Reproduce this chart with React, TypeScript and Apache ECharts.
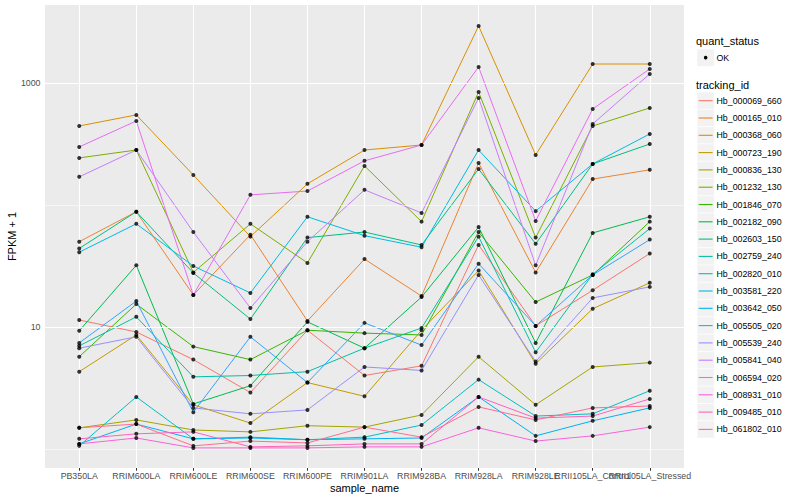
import React, { useEffect, useRef } from "react";
import * as echarts from "echarts";

const categories = [
  "PB350LA", "RRIM600LA", "RRIM600LE", "RRIM600SE", "RRIM600PE", "RRIM901LA",
  "RRIM928BA", "RRIM928LA", "RRIM928LE", "RRII105LA_Control", "RRII105LA_Stressed",
];

const trackingIds = [
  "Hb_000069_660", "Hb_000165_010", "Hb_000368_060", "Hb_000723_190", "Hb_000836_130",
  "Hb_001232_130", "Hb_001846_070", "Hb_002182_090", "Hb_002603_150", "Hb_002759_240",
  "Hb_002820_010", "Hb_003581_220", "Hb_003642_050", "Hb_005505_020", "Hb_005539_240",
  "Hb_005841_040", "Hb_006594_020", "Hb_008931_010", "Hb_009485_010", "Hb_061802_010",
];

const palette = [
  "#F8766D", "#EA8331", "#D89000", "#C09B00", "#A3A500", "#7CAE00", "#39B600", "#00BB4E",
  "#00BF7D", "#00C1A3", "#00BFC4", "#00BAE0", "#00B0F6", "#35A2FF", "#9590FF", "#C77CFF",
  "#E76BF3", "#FA62DB", "#FF62BC", "#FF6C91",
];

// FPKM + 1 per sample (same order as categories)
const hb_000069_660 = [11.4, 9.1, 5.4, 2.9, 9.4, 4.0, 4.8, 47, 10.2, 20, 40];
const hb_000165_010 = [50, 88, 18.3, 57, 11.2, 36, 17.9, 221, 28, 163, 194];
const hb_000368_060 = [444, 547, 176, 55, 149, 282, 310, 2930, 257, 1430, 1430];
const hb_000723_190 = [4.3, 8.6, 2.3, 1.63, 3.5, 2.7, 9.4, 29, 5.0, 14.1, 23];
const hb_000836_130 = [1.49, 1.73, 1.43, 1.38, 1.55, 1.51, 1.9, 5.7, 2.3, 4.7, 5.1];
const hb_001232_130 = [243, 282, 28, 70, 33.5, 209, 73, 844, 54, 444, 624];
const hb_001846_070 = [5.7, 15.4, 6.9, 5.4, 9.4, 8.9, 8.6, 60, 16, 26.7, 73];
const hb_002182_090 = [9.3, 32, 2.34, 3.3, 11, 6.7, 17.6, 66, 7.4, 59, 80];
const hb_002603_150 = [44, 88, 27.7, 11.6, 54, 60, 47, 197, 48, 217, 316];
const hb_002759_240 = [7.0, 12.1, 3.9, 4.0, 4.3, 6.7, 9.8, 55, 6.2, 27, 64];
const hb_002820_010 = [1.06, 2.67, 1.21, 1.25, 1.19, 1.25, 1.57, 3.7, 1.86, 1.94, 3.0];
const hb_003581_220 = [41, 70, 31.6, 19, 80, 56, 45, 282, 89, 217, 382];
const hb_003642_050 = [1.1, 1.6, 1.21, 1.23, 1.19, 1.21, 1.23, 2.67, 1.28, 1.7, 2.17];
const hb_005505_020 = [7.4, 16.3, 2.0, 8.3, 3.5, 10.8, 7.1, 33, 10.2, 26.7, 52];
const hb_005539_240 = [6.7, 8.3, 2.17, 1.94, 2.09, 4.7, 4.4, 26.7, 5.2, 17.3, 21.3];
const hb_005841_040 = [170, 282, 60, 14.3, 50, 133, 86, 754, 32, 461, 1186];
const hb_006594_020 = [299, 488, 18.3, 121, 130, 230, 310, 1352, 74, 612, 1303];
const hb_008931_010 = [1.1, 1.23, 1.02, 1.02, 1.02, 1.04, 1.04, 1.49, 1.16, 1.28, 1.51];
const hb_009485_010 = [1.21, 1.33, 1.38, 1.04, 1.06, 1.1, 1.1, 2.67, 1.79, 1.86, 2.57];
const hb_061802_010 = [1.49, 1.6, 1.06, 1.16, 1.12, 1.51, 1.25, 2.21, 1.73, 2.17, 2.25];

const seriesValues = [
  hb_000069_660, hb_000165_010, hb_000368_060, hb_000723_190, hb_000836_130,
  hb_001232_130, hb_001846_070, hb_002182_090, hb_002603_150, hb_002759_240,
  hb_002820_010, hb_003581_220, hb_003642_050, hb_005505_020, hb_005539_240,
  hb_005841_040, hb_006594_020, hb_008931_010, hb_009485_010, hb_061802_010,
];

const yTickLabels = [10, 1000];
const yMajorGrid = [10, 1000];
const yMinorGrid = [1, 100];
const quantStatus = ["OK"];

export default function App() {
  const ref = useRef<HTMLDivElement>(null);

  useEffect(() => {
    const chart = echarts.init(ref.current!, null, { renderer: "svg" });
    const FONT = "'Liberation Sans', Arial, Helvetica, sans-serif";
    const xIdx = categories.map((_, i) => i);
    // labels split over two stacked axes so that ECharts does not drop overlapping neighbours
    const xEven = xIdx.filter((i) => i % 2 === 0);
    const xOdd = xIdx.filter((i) => i % 2 === 1);

    const gridLines: any[] = [
      ...xIdx.map((i) => ({ xAxis: i, lineStyle: { color: "#FFFFFF", width: 1.1, type: "solid" } })),
      ...yMinorGrid.map((v) => ({ yAxis: v, lineStyle: { color: "#FFFFFF", width: 0.55, type: "solid" } })),
      ...yMajorGrid.map((v) => ({ yAxis: v, lineStyle: { color: "#FFFFFF", width: 1.1, type: "solid" } })),
    ];

    const lineSeries: any[] = trackingIds.map((id, i) => ({
      name: id,
      type: "line",
      xAxisIndex: 0,
      data: seriesValues[i].map((v, j) => [j, v]),
      showSymbol: false,
      symbol: "none",
      silent: true,
      z: 3,
      lineStyle: { color: palette[i], width: 1 },
      itemStyle: { color: palette[i] },
    }));

    const legendX = 697;
    const keyW = 17.3;
    const rowH = 17.3;
    const firstRow = 100.7;
    const graphics: any[] = [
      { type: "text", x: 12, y: 236.5, rotation: Math.PI / 2, style: { text: "FPKM + 1", font: `11px ${FONT}`, fill: "#000", align: "center", verticalAlign: "middle" } },
      { type: "text", x: 364.5, y: 488, style: { text: "sample_name", font: `11px ${FONT}`, fill: "#000", align: "center", verticalAlign: "middle" } },
      { type: "text", x: 696, y: 40.7, style: { text: "quant_status", font: `11px ${FONT}`, fill: "#000", align: "left", verticalAlign: "middle" } },
      ...quantStatus.flatMap((q, i) => [
        { type: "rect", shape: { x: legendX, y: 49 + i * rowH, width: keyW, height: rowH }, style: { fill: "#F2F2F2", stroke: "#FFFFFF", lineWidth: 0.5 } },
        { type: "circle", shape: { cx: legendX + keyW / 2, cy: 57.6 + i * rowH, r: 1.8 }, style: { fill: "#000" } },
        { type: "text", x: 716.5, y: 57.6 + i * rowH, style: { text: q, font: `8.8px ${FONT}`, fill: "#000", align: "left", verticalAlign: "middle" } },
      ]),
      { type: "text", x: 696, y: 85, style: { text: "tracking_id", font: `11px ${FONT}`, fill: "#000", align: "left", verticalAlign: "middle" } },
      ...trackingIds.flatMap((id, i) => {
        const cy = firstRow + i * rowH;
        return [
          { type: "rect", shape: { x: legendX, y: cy - rowH / 2, width: keyW, height: rowH }, style: { fill: "#F2F2F2", stroke: "#FFFFFF", lineWidth: 0.6 } },
          { type: "line", shape: { x1: legendX + 1.7, y1: cy, x2: legendX + keyW - 1.7, y2: cy }, style: { stroke: palette[i], lineWidth: 1.1 } },
          { type: "text", x: 716.5, y: cy, style: { text: id, font: `8.8px ${FONT}`, fill: "#000", align: "left", verticalAlign: "middle" } },
        ];
      }),
    ];

    const makeX = (vals: number[]) => ({
      type: "value",
      position: "bottom",
      offset: 0,
      min: -0.6,
      max: 10.6,
      splitLine: { show: false },
      axisLine: { show: false },
      axisTick: { show: true, customValues: vals, length: 2.75, lineStyle: { color: "#333333", width: 1 } },
      axisLabel: {
        customValues: vals,
        formatter: (v: number) => categories[Math.round(v)] ?? "",
        color: "#4D4D4D",
        fontSize: 8.8,
        fontFamily: FONT,
        margin: 3.5,
        hideOverlap: false,
        showMinLabel: true,
        showMaxLabel: true,
      },
    });

    chart.setOption({
      animation: false,
      backgroundColor: "#FFFFFF",
      textStyle: { fontFamily: FONT },
      grid: { left: 45, right: 116, top: 5, bottom: 32, show: true, backgroundColor: "#EBEBEB", borderWidth: 0, containLabel: false },
      xAxis: [makeX(xEven), makeX(xOdd)],
      yAxis: {
        type: "log",
        logBase: 10,
        min: 0.698,
        max: 4355,
        splitLine: { show: false },
        axisLine: { show: false },
        axisTick: { show: true, customValues: yTickLabels, length: 2.75, lineStyle: { color: "#333333", width: 1 } },
        axisLabel: {
          customValues: yTickLabels,
          formatter: (v: number) => String(Math.round(v)),
          color: "#4D4D4D",
          fontSize: 8.8,
          fontFamily: FONT,
          margin: 4.5,
          showMinLabel: true,
          showMaxLabel: true,
        },
      },
      series: [
        {
          name: "grid",
          type: "line",
          xAxisIndex: 0,
          data: [[0, 10]],
          showSymbol: false,
          symbol: "none",
          silent: true,
          z: 1,
          lineStyle: { opacity: 0 },
          markLine: { silent: true, symbol: "none", label: { show: false }, animation: false, data: gridLines, emphasis: { disabled: true } },
        },
        ...lineSeries,
        {
          name: "OK",
          type: "scatter",
          xAxisIndex: 0,
          data: seriesValues.flatMap((arr) => arr.map((v, j) => [j, v])),
          symbol: "circle",
          symbolSize: 4,
          silent: true,
          z: 5,
          itemStyle: { color: "#000000" },
        },
      ],
      graphic: graphics,
    });

    return () => chart.dispose();
  }, []);

  return <div ref={ref} style={{ position: "absolute", left: 0, top: 0, width: 800, height: 500 }} />;
}
